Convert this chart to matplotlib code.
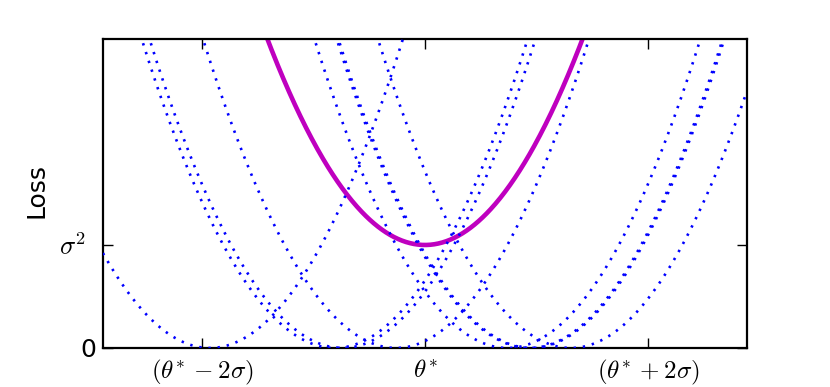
import numpy as np
import matplotlib
matplotlib.use('Agg')
import matplotlib.pyplot as plt

plt.rcParams['mathtext.fontset'] = 'cm'

# minima of the individual losses, in units of sigma from theta*
centres = [-1.93, -0.81, -0.74, -0.26, 0.74, 0.94, 0.955, 1.31]
sigma2 = 1.0  # height of the averaged loss at theta*

xticks = [-2, 0, 2]
xticklabels = [r'$(\theta^{\!*}-2\sigma)$', r'$\theta^{\!*}$', r'$(\theta^{\!*}+2\sigma)$']
yticks = [0, 1]
yticklabels = ['0', r'$\sigma^2$']

x = np.linspace(-2.89, 2.89, 800)

fig = plt.figure(figsize=(8.3, 3.87), dpi=100)
ax = fig.add_axes([0.124, 0.1008, 0.776, 0.7985])

ax.plot(x, x ** 2 + sigma2, color='#bf00bf', lw=3.3, zorder=2)
for c in centres:
    ax.plot(x, (x - c) ** 2, color='b', lw=1.9, linestyle=(0, (0.9, 2.6)), zorder=3)

ax.set_xlim(-2.89, 2.89)
ax.set_ylim(0, 3)
ax.set_xticks(xticks)
ax.set_xticklabels(xticklabels, fontsize=18)
ax.set_yticks(yticks)
ax.set_yticklabels(yticklabels)
ax.get_yticklabels()[0].set_fontsize(18)
ax.get_yticklabels()[1].set_fontsize(19)
ax.tick_params(direction='in', length=7, width=1, top=True, right=True)
ax.tick_params(axis='x', pad=7)
ax.tick_params(axis='y', pad=5)
ax.yaxis.get_major_ticks()[1].set_pad(12.5)
for s in ax.spines.values():
    s.set_linewidth(1.6)
ax.set_ylabel('Loss', fontsize=18)
ax.yaxis.set_label_coords(-0.084, 0.51)

fig.savefig('out.png', dpi=100)
